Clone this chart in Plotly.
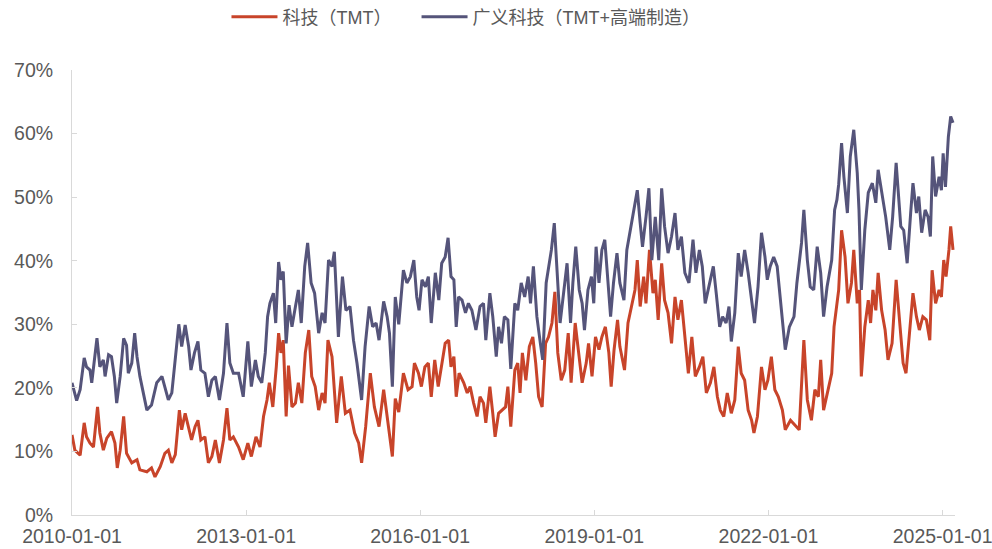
import pandas as pd
import plotly.graph_objects as go

# decimal year -> share of market turnover (%)
tmt_t = [2010.00, 2010.05, 2010.14, 2010.21, 2010.25, 2010.31, 2010.37, 2010.44, 2010.48, 2010.54,
         2010.60, 2010.68, 2010.74, 2010.78, 2010.83, 2010.89, 2010.94, 2011.03, 2011.12, 2011.17,
         2011.29, 2011.37, 2011.43, 2011.52, 2011.60, 2011.66, 2011.72, 2011.78, 2011.85, 2011.89,
         2011.95, 2012.01, 2012.06, 2012.12, 2012.17, 2012.22, 2012.29, 2012.35, 2012.41, 2012.47,
         2012.54, 2012.61, 2012.67, 2012.72, 2012.78, 2012.87, 2012.95, 2013.03, 2013.09, 2013.17,
         2013.24, 2013.30, 2013.36, 2013.40, 2013.46, 2013.52, 2013.56, 2013.60, 2013.64, 2013.69,
         2013.73, 2013.79, 2013.85, 2013.90, 2013.96, 2014.02, 2014.08, 2014.13, 2014.19, 2014.25,
         2014.31, 2014.36, 2014.41, 2014.48, 2014.56, 2014.64, 2014.71, 2014.79, 2014.87, 2014.94,
         2014.99, 2015.06, 2015.14, 2015.21, 2015.29, 2015.37, 2015.45, 2015.52, 2015.57, 2015.63,
         2015.71, 2015.79, 2015.86, 2015.90, 2015.97, 2016.02, 2016.08, 2016.14, 2016.19, 2016.25,
         2016.31, 2016.37, 2016.43, 2016.49, 2016.53, 2016.58, 2016.62, 2016.67, 2016.75, 2016.81,
         2016.86, 2016.92, 2016.98, 2017.03, 2017.09, 2017.13, 2017.20, 2017.25, 2017.29, 2017.35,
         2017.41, 2017.47, 2017.51, 2017.56, 2017.63, 2017.68, 2017.72, 2017.76, 2017.82, 2017.88,
         2017.94, 2017.99, 2018.04, 2018.10, 2018.16, 2018.21, 2018.27, 2018.32, 2018.37, 2018.43,
         2018.49, 2018.55, 2018.60, 2018.67, 2018.73, 2018.79, 2018.86, 2018.90, 2018.96, 2019.02,
         2019.08, 2019.13, 2019.19, 2019.25, 2019.29, 2019.34, 2019.40, 2019.44, 2019.52, 2019.58,
         2019.64, 2019.70, 2019.74, 2019.79, 2019.85, 2019.89, 2019.95, 2020.01, 2020.05, 2020.10,
         2020.16, 2020.21, 2020.27, 2020.33, 2020.39, 2020.44, 2020.50, 2020.56, 2020.62, 2020.68,
         2020.74, 2020.81, 2020.87, 2020.93, 2021.00, 2021.06, 2021.12, 2021.17, 2021.23, 2021.29,
         2021.36, 2021.42, 2021.48, 2021.53, 2021.59, 2021.65, 2021.71, 2021.75, 2021.81, 2021.88,
         2021.94, 2021.99, 2022.05, 2022.11, 2022.17, 2022.24, 2022.29, 2022.38, 2022.47, 2022.53,
         2022.61, 2022.67, 2022.74, 2022.80, 2022.86, 2022.90, 2022.95, 2023.01, 2023.09, 2023.13,
         2023.18, 2023.21, 2023.26, 2023.32, 2023.37, 2023.43, 2023.47, 2023.53, 2023.57, 2023.60,
         2023.66, 2023.72, 2023.76, 2023.80, 2023.85, 2023.89, 2023.95, 2024.01, 2024.06, 2024.13,
         2024.20, 2024.26, 2024.32, 2024.37, 2024.43, 2024.49, 2024.55, 2024.60, 2024.66, 2024.72,
         2024.78, 2024.82, 2024.88, 2024.94, 2024.98, 2025.02, 2025.06, 2025.11, 2025.14, 2025.18]
tmt_v = [12.6, 10.2, 9.4, 14.5, 12.3, 11.3, 10.7, 17.0, 12.9, 10.2,
         12.1, 13.1, 11.3, 7.4, 10.2, 15.5, 9.7, 8.2, 8.7, 7.1,
         6.8, 7.4, 6.0, 7.6, 9.7, 10.2, 8.2, 9.5, 16.5, 13.4,
         16.0, 13.4, 11.8, 13.9, 14.9, 11.8, 12.3, 8.2, 9.2, 11.8,
         8.2, 11.8, 16.8, 11.8, 12.3, 10.7, 8.7, 11.3, 9.2, 12.3,
         10.7, 15.5, 18.1, 20.8, 17.0, 23.3, 28.6, 25.5, 27.5, 15.5,
         23.5, 17.0, 17.6, 20.8, 17.6, 25.5, 29.1, 21.8, 20.2, 16.5,
         19.2, 17.6, 27.5, 24.9, 14.5, 21.8, 16.0, 16.5, 12.9, 11.3,
         8.2, 13.9, 22.3, 17.0, 13.9, 19.7, 14.5, 9.2, 18.3, 16.2,
         22.3, 19.7, 20.2, 23.9, 22.3, 20.2, 23.3, 23.9, 18.6, 24.4,
         20.2, 23.9, 27.0, 27.5, 23.3, 24.9, 18.6, 22.3, 20.8, 19.2,
         20.2, 17.6, 15.5, 18.6, 17.6, 14.5, 20.2, 16.0, 12.3, 16.0,
         16.5, 17.0, 20.2, 13.9, 22.8, 23.9, 19.2, 25.5, 21.2, 26.5,
         28.0, 23.9, 18.6, 17.0, 27.0, 28.0, 30.2, 35.1, 25.5, 21.2,
         22.8, 28.6, 20.8, 30.2, 25.5, 20.8, 23.9, 27.0, 21.8, 28.0,
         26.0, 28.0, 29.6, 25.5, 20.2, 26.0, 30.7, 26.5, 22.8, 30.2,
         32.8, 35.4, 40.1, 32.8, 37.5, 33.3, 41.7, 34.9, 37.0, 30.7,
         39.6, 33.8, 31.8, 27.0, 34.3, 30.7, 33.8, 28.0, 22.3, 28.0,
         21.8, 23.3, 24.9, 19.2, 20.8, 23.3, 18.6, 16.5, 15.5, 19.2,
         16.0, 18.1, 26.5, 22.3, 21.2, 16.5, 14.9, 12.9, 15.5, 23.3,
         19.7, 21.2, 24.9, 19.7, 18.6, 16.5, 13.4, 14.9, 13.9, 13.4,
         27.5, 18.1, 14.9, 19.7, 18.6, 24.4, 16.5, 19.2, 22.3, 29.6,
         32.8, 35.4, 44.8, 40.6, 33.3, 36.5, 41.7, 33.3, 35.4, 21.8,
         29.6, 33.8, 30.2, 35.4, 32.2, 38.1, 32.2, 29.1, 24.4, 27.0,
         37.0, 30.2, 23.9, 22.3, 29.1, 34.9, 31.2, 29.1, 31.2, 30.7,
         27.5, 38.5, 33.3, 35.4, 34.3, 40.1, 37.5, 41.7, 45.4, 41.7]

broad_t = [2010.00, 2010.08, 2010.14, 2010.21, 2010.25, 2010.31, 2010.34, 2010.43, 2010.48, 2010.54,
           2010.57, 2010.63, 2010.68, 2010.73, 2010.77, 2010.83, 2010.89, 2010.94, 2010.97, 2011.03,
           2011.08, 2011.12, 2011.17, 2011.26, 2011.29, 2011.37, 2011.46, 2011.55, 2011.60, 2011.66,
           2011.72, 2011.78, 2011.84, 2011.89, 2011.95, 2012.01, 2012.05, 2012.11, 2012.17, 2012.22,
           2012.29, 2012.35, 2012.41, 2012.47, 2012.54, 2012.61, 2012.67, 2012.72, 2012.78, 2012.87,
           2012.95, 2013.03, 2013.09, 2013.16, 2013.21, 2013.27, 2013.33, 2013.37, 2013.41, 2013.47,
           2013.51, 2013.56, 2013.60, 2013.64, 2013.69, 2013.74, 2013.79, 2013.85, 2013.90, 2013.95,
           2014.01, 2014.06, 2014.12, 2014.18, 2014.25, 2014.31, 2014.36, 2014.42, 2014.48, 2014.52,
           2014.59, 2014.66, 2014.72, 2014.79, 2014.85, 2014.91, 2014.99, 2015.05, 2015.12, 2015.18,
           2015.24, 2015.29, 2015.37, 2015.43, 2015.47, 2015.52, 2015.57, 2015.63, 2015.71, 2015.77,
           2015.83, 2015.89, 2015.94, 2015.98, 2016.03, 2016.09, 2016.14, 2016.19, 2016.26, 2016.32,
           2016.37, 2016.43, 2016.48, 2016.53, 2016.58, 2016.62, 2016.66, 2016.72, 2016.78, 2016.83,
           2016.89, 2016.96, 2017.03, 2017.09, 2017.13, 2017.20, 2017.25, 2017.31, 2017.35, 2017.40,
           2017.45, 2017.51, 2017.56, 2017.63, 2017.68, 2017.74, 2017.80, 2017.86, 2017.90, 2017.95,
           2018.01, 2018.07, 2018.11, 2018.17, 2018.21, 2018.26, 2018.31, 2018.36, 2018.41, 2018.47,
           2018.53, 2018.59, 2018.63, 2018.68, 2018.74, 2018.79, 2018.83, 2018.89, 2018.95, 2018.99,
           2019.03, 2019.08, 2019.13, 2019.18, 2019.24, 2019.28, 2019.33, 2019.39, 2019.44, 2019.51,
           2019.56, 2019.62, 2019.68, 2019.74, 2019.79, 2019.83, 2019.89, 2019.94, 2019.99, 2020.05,
           2020.11, 2020.16, 2020.21, 2020.27, 2020.33, 2020.39, 2020.44, 2020.50, 2020.56, 2020.63,
           2020.70, 2020.75, 2020.81, 2020.86, 2020.91, 2020.97, 2021.05, 2021.10, 2021.16, 2021.21,
           2021.27, 2021.32, 2021.36, 2021.42, 2021.48, 2021.53, 2021.59, 2021.65, 2021.71, 2021.76,
           2021.82, 2021.88, 2021.94, 2021.98, 2022.03, 2022.09, 2022.15, 2022.21, 2022.29, 2022.36,
           2022.44, 2022.49, 2022.57, 2022.61, 2022.67, 2022.72, 2022.78, 2022.84, 2022.90, 2022.95,
           2023.01, 2023.09, 2023.14, 2023.18, 2023.21, 2023.26, 2023.30, 2023.36, 2023.41, 2023.47,
           2023.53, 2023.56, 2023.60, 2023.66, 2023.72, 2023.79, 2023.85, 2023.89, 2023.96, 2024.02,
           2024.09, 2024.14, 2024.20, 2024.28, 2024.33, 2024.39, 2024.45, 2024.49, 2024.55, 2024.59,
           2024.64, 2024.70, 2024.75, 2024.79, 2024.83, 2024.88, 2024.94, 2024.98, 2025.01, 2025.05,
           2025.10, 2025.14, 2025.18]
broad_v = [20.8, 18.0, 19.7, 24.7, 23.3, 22.8, 20.8, 27.8, 23.3, 24.4,
           21.8, 25.2, 24.9, 21.8, 17.6, 21.8, 27.8, 26.7, 22.3, 23.9,
           28.6, 24.9, 21.8, 17.6, 16.5, 17.3, 20.8, 21.8, 20.2, 18.1,
           19.2, 24.4, 30.0, 26.5, 29.9, 26.5, 22.8, 25.5, 27.3, 22.8,
           22.3, 18.6, 21.2, 21.8, 18.1, 22.3, 30.2, 23.9, 22.3, 22.3,
           18.6, 27.3, 20.2, 24.4, 21.8, 20.8, 25.5, 31.2, 33.3, 34.9,
           30.2, 39.8, 37.0, 38.3, 27.0, 33.0, 29.6, 32.8, 35.4, 30.2,
           39.1, 42.8, 36.5, 34.9, 28.6, 31.8, 30.2, 40.1, 39.1, 41.4,
           28.0, 37.5, 32.2, 32.8, 27.5, 23.9, 18.1, 26.5, 32.8, 29.6,
           30.2, 27.5, 33.6, 31.2, 28.6, 20.2, 34.3, 30.0, 38.5, 36.5,
           37.5, 40.1, 34.3, 32.2, 37.0, 35.9, 37.5, 30.2, 38.1, 33.8,
           39.6, 40.6, 43.6, 37.5, 37.0, 29.6, 34.3, 33.8, 31.8, 33.3,
           32.2, 29.1, 32.8, 33.3, 27.5, 34.9, 31.2, 24.9, 29.6, 27.0,
           31.2, 30.7, 23.0, 33.3, 32.2, 36.5, 34.3, 37.5, 33.3, 39.1,
           31.2, 27.0, 24.4, 36.5, 39.1, 41.7, 45.9, 37.5, 30.2, 34.9,
           39.6, 30.2, 36.5, 42.2, 35.4, 33.3, 29.1, 35.4, 37.5, 33.3,
           42.2, 36.5, 41.7, 43.3, 35.4, 31.2, 36.5, 41.2, 36.5, 33.8,
           41.7, 44.8, 48.0, 51.1, 45.9, 42.2, 46.9, 51.4, 40.1, 46.9,
           40.1, 51.4, 45.4, 41.2, 43.8, 47.5, 41.7, 43.8, 38.1, 36.5,
           43.3, 38.1, 41.7, 39.1, 33.3, 35.9, 39.1, 34.9, 29.6, 31.2,
           30.2, 32.8, 27.3, 31.8, 41.2, 37.5, 41.7, 38.1, 33.8, 30.2,
           35.9, 44.4, 40.6, 37.0, 39.1, 40.6, 39.1, 33.8, 26.0, 29.6,
           31.2, 36.5, 42.8, 48.0, 40.1, 35.9, 35.4, 42.2, 38.1, 31.2,
           35.9, 40.1, 48.0, 49.6, 52.0, 58.5, 53.2, 47.5, 56.4, 60.6,
           53.8, 48.0, 35.4, 44.8, 50.7, 52.2, 49.1, 54.3, 50.1, 46.9,
           41.7, 46.9, 55.4, 45.4, 44.8, 39.6, 47.5, 52.2, 47.5, 50.1,
           44.4, 48.0, 46.9, 43.8, 56.4, 50.1, 53.2, 51.1, 56.9, 51.6,
           59.5, 62.7, 61.7]

names = ['科技（TMT）', '广义科技（TMT+高端制造）']
colors = ['#C8442A', '#55547A']
x_ticks = ['2010-01-01', '2013-01-01', '2016-01-01', '2019-01-01', '2022-01-01', '2025-01-01']


def to_dates(years):
    s = pd.Series(years) - 2010
    return pd.Timestamp('2010-01-01') + pd.to_timedelta(s * 365.25, unit='D')


font = 'Arial, "Liberation Sans", "Noto Sans CJK SC", sans-serif'

fig = go.Figure()
for t, v, name, color, leg in [(tmt_t, tmt_v, names[0], colors[0], 'legend'),
                               (broad_t, broad_v, names[1], colors[1], 'legend2')]:
    fig.add_trace(go.Scatter(x=to_dates(t), y=[x / 100 for x in v], name=name, mode='lines',
                             line=dict(color=color, width=3), legend=leg))

legend_style = dict(orientation='h', xref='container', yref='container', xanchor='left',
                    y=0.969, yanchor='middle', font=dict(size=18, color='#595959'),
                    itemwidth=46, bgcolor='rgba(0,0,0,0)')

fig.update_layout(width=992, height=549,
                  margin=dict(l=72, r=37, t=70, b=34, autoexpand=False),
                  paper_bgcolor='white', plot_bgcolor='white',
                  font=dict(family=font, size=19.5, color='#595959'),
                  showlegend=True,
                  legend=dict(x=0.2283, **legend_style),
                  legend2=dict(x=0.4199, **legend_style))

fig.update_xaxes(range=['2010-01-01', '2025-03-20'],
                 tickvals=x_ticks, ticktext=x_ticks, automargin=False,
                 ticklabeloverflow='allow', ticklabelstandoff=4,
                 showgrid=False, zeroline=False,
                 showline=True, linecolor='#D9D9D9', linewidth=1,
                 ticks='inside', ticklen=5, tickcolor='#D9D9D9')
fig.update_yaxes(range=[0, 0.7], dtick=0.1, tickformat='.0%', automargin=False,
                 ticklabeloverflow='allow', ticklabelstandoff=14,
                 showgrid=False, zeroline=False,
                 showline=True, linecolor='#D9D9D9', linewidth=1,
                 ticks='inside', ticklen=5, tickcolor='#D9D9D9')

# the page body has a default 8px margin; drop it so the figure sits at the corner
fig.write_html('out.html', config={'displayModeBar': False},
               post_script="document.body.style.margin = '0';")
